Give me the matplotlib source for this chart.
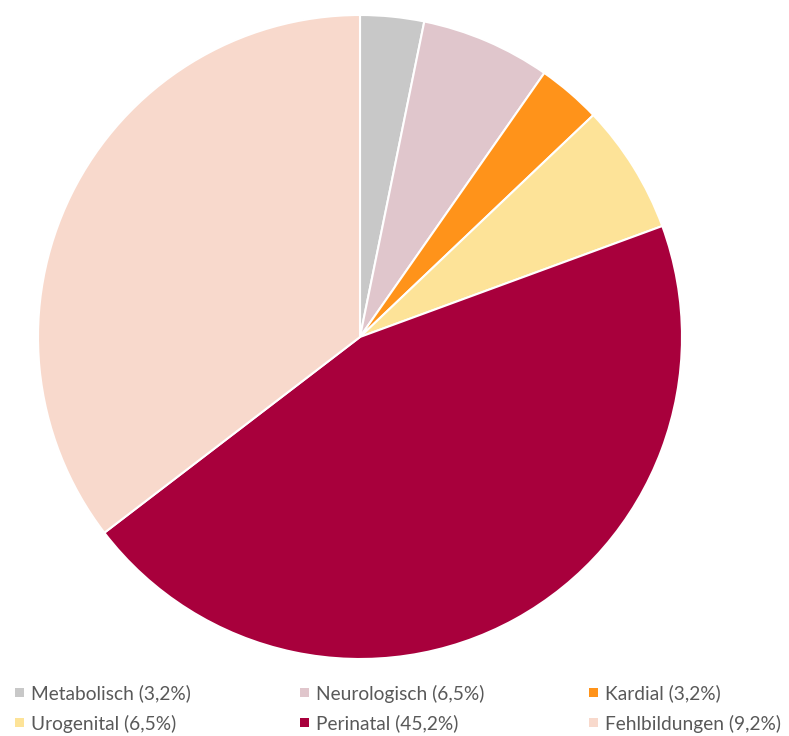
import matplotlib.pyplot as plt
from matplotlib.patches import Rectangle

labels = ['Metabolisch (3,2%)', 'Neurologisch (6,5%)', 'Kardial (3,2%)',
          'Urogenital (6,5%)', 'Perinatal (45,2%)', 'Fehlbildungen (9,2%)']
shares = [3.2, 6.5, 3.2, 6.5, 45.2, 35.4]
colors = ['#C8C8C8', '#E0C6CC', '#FF931A', '#FDE398', '#A8003C', '#F8D9CC']

W, H = 789, 736
fig = plt.figure(figsize=(W / 100, H / 100), dpi=100)

# square axes holding the pie, radius 322 px around (360, 337)
cx, cy, r = 360, 337, 322
ax = fig.add_axes([(cx - r) / W, (H - cy - r) / H, 2 * r / W, 2 * r / H])
wedges, _ = ax.pie(shares, colors=colors, startangle=90, counterclock=False,
                   wedgeprops={'edgecolor': 'white', 'linewidth': 1.5})
ax.set_xlim(-1.0, 1.0)
ax.set_ylim(-1.0, 1.0)
ax.set_aspect('equal')

# legend: three columns, two rows (pixel positions of the key squares)
col_x = [15, 300, 589]
row_y = [692, 722]
sq = 9
for i, (lab, c) in enumerate(zip(labels, colors)):
    x = col_x[i % 3]
    y = row_y[i // 3]
    fig.patches.append(Rectangle((x / W, (H - y - sq / 2) / H), sq / W, sq / H,
                                 facecolor=c, edgecolor='none',
                                 transform=fig.transFigure))
    fig.text((x + 16) / W, (H - y) / H, lab, family='Lato', size=13.8,
             color='#595959', va='center_baseline', ha='left')

fig.savefig('out.png', dpi=100)
